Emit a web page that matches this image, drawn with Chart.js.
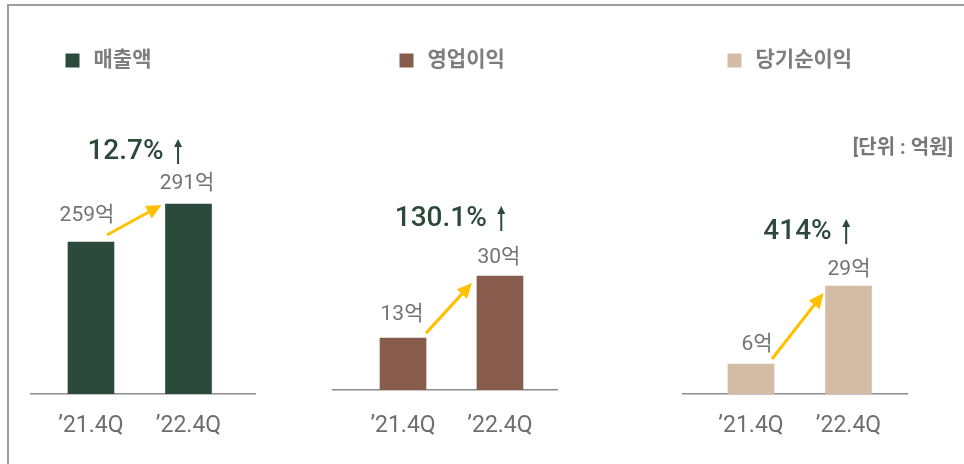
<!DOCTYPE html>
<html>
<head>
<meta charset="utf-8">
<script src="https://cdn.jsdelivr.net/npm/chart.js@4.4.1/dist/chart.umd.min.js"></script>
<style>
  html, body { margin: 0; padding: 0; background: #fff; }
  body { width: 964px; height: 464px; position: relative; overflow: hidden; }
  .frame { position: absolute; left: 7px; top: 4px; width: 1000px; height: 500px;
           border-top: 2px solid #9d9d9d; border-left: 2px solid #9d9d9d; }
  .panel { position: absolute; left: 0; width: 964px; }
  .unit { position: absolute; right: 11px; top: 131px; line-height: 22px;
          font: bold 20px Roboto, "Noto Sans CJK KR", sans-serif; color: #777; }
</style>
</head>
<body>
<div class="frame"></div>
<div class="panel" id="p1"><canvas id="chart1"></canvas></div>
<div class="panel" id="p2"><canvas id="chart2"></canvas></div>
<div class="panel" id="p3"><canvas id="chart3"></canvas></div>
<div class="unit" id="unit"></div>
<script>
// data
const categories = ['’21.4Q', '’22.4Q']
const seriesNames = ['매출액', '영업이익', '당기순이익']
const salesValues = [259, 291]
const opProfitValues = [13, 30]
const netProfitValues = [6, 29]
const growthLabels = ['12.7%', '130.1%', '414%']
const valueUnit = '억'
const unitText = '[단위 : 억원]'

document.getElementById('unit').textContent = unitText

const fontFamily = 'Roboto, "Noto Sans CJK KR", sans-serif'

// draws value labels, the yellow arrow and the growth figure
const annotate = {
  id: 'annotate',
  afterDatasetsDraw(chart, args, opts) {
    const ctx = chart.ctx
    const bars = chart.getDatasetMeta(0).data
    const values = chart.data.datasets[0].data.map(p => p.y)
    const a = bars[0], b = bars[1]
    ctx.save()

    ctx.font = '21px ' + fontFamily
    ctx.fillStyle = '#737373'
    ctx.textAlign = 'center'
    ctx.textBaseline = 'middle'
    bars.forEach((bar, i) => {
      ctx.fillText(values[i] + valueUnit, bar.x + opts.valueShift[i], bar.y - opts.valueLift[i])
    })

    // yellow arrow
    const x1 = a.x + a.width / 2 + opts.arrow[0], y1 = a.y + opts.arrow[1]
    const x2 = b.x - b.width / 2 + opts.arrow[2], y2 = b.y + opts.arrow[3]
    const ang = Math.atan2(y2 - y1, x2 - x1)
    const cos = Math.cos(ang), sin = Math.sin(ang)
    const head = 15, half = 7
    ctx.strokeStyle = '#ffc000'
    ctx.fillStyle = '#ffc000'
    ctx.lineWidth = 3
    ctx.beginPath()
    ctx.moveTo(x1, y1)
    ctx.lineTo(x2 - head * 0.8 * cos, y2 - head * 0.8 * sin)
    ctx.stroke()
    ctx.beginPath()
    ctx.moveTo(x2, y2)
    ctx.lineTo(x2 - head * cos + half * sin, y2 - head * sin - half * cos)
    ctx.lineTo(x2 - head * cos - half * sin, y2 - head * sin + half * cos)
    ctx.closePath()
    ctx.fill()

    // growth figure with thin up arrow
    ctx.font = '500 28px ' + fontFamily
    ctx.fillStyle = '#2b4a3a'
    ctx.strokeStyle = '#2b4a3a'
    const w = ctx.measureText(opts.growth).width
    const gw = w + 14.5 + 4
    const cx = (a.x + b.x) / 2 + opts.growthShift
    const cy = b.y - opts.growthLift
    const left = cx - gw / 2
    ctx.textAlign = 'left'
    ctx.fillText(opts.growth, left, cy)
    const ax = left + w + 14.5
    ctx.lineWidth = 2
    ctx.beginPath()
    ctx.moveTo(ax, cy - 6)
    ctx.lineTo(ax, cy + 12)
    ctx.stroke()
    ctx.beginPath()
    ctx.moveTo(ax, cy - 13)
    ctx.lineTo(ax - 4, cy - 5)
    ctx.lineTo(ax + 4, cy - 5)
    ctx.closePath()
    ctx.fill()

    ctx.restore()
  }
}

function makeChart(id, panelId, name, values, color, growth, s) {
  const panel = document.getElementById(panelId)
  panel.style.top = s.top + 'px'
  panel.style.height = (464 - s.top) + 'px'
  return new Chart(document.getElementById(id), {
    type: 'bar',
    data: {
      datasets: [{
        label: name,
        data: values.map((v, i) => ({ x: i + 1, y: v })),
        backgroundColor: color,
        borderWidth: 0,
        barThickness: 46,
        base: s.yMin
      }]
    },
    options: {
      responsive: true,
      maintainAspectRatio: false,
      animation: false,
      layout: { padding: { left: s.area[0], right: 964 - s.area[1], top: 0, bottom: s.bottom } },
      scales: {
        x: {
          type: 'linear',
          offset: false,
          bounds: 'data',
          min: s.xMin,
          max: s.xMax,
          afterBuildTicks: (scale) => { scale.ticks = categories.map((c, i) => ({ value: i + 1 })) },
          grid: { display: false, drawTicks: false },
          border: { display: true, color: '#8c8c8c', width: 1.5 },
          ticks: {
            padding: s.tickPad,
            color: '#6e6e6e',
            font: { family: fontFamily, size: 23, lineHeight: 1.2 },
            maxRotation: 0,
            autoSkip: false,
            callback: (v) => categories[Math.round(v) - 1]
          }
        },
        y: {
          display: false,
          bounds: 'data',
          min: s.yMin,
          max: s.yMax
        }
      },
      plugins: {
        legend: {
          position: 'top',
          align: 'start',
          labels: {
            usePointStyle: true,
            pointStyle: 'rect',
            boxWidth: 21,
            boxHeight: 14,
            padding: s.legendPad,
            color: '#7d7d7d',
            font: { family: fontFamily, size: 21, weight: 'bold' }
          }
        },
        tooltip: { enabled: false },
        annotate: {
          growth: growth,
          growthShift: s.growthShift,
          growthLift: s.growthLift,
          valueShift: s.valueShift,
          valueLift: s.valueLift,
          arrow: s.arrow
        }
      }
    },
    plugins: [annotate]
  })
}

makeChart('chart1', 'p1', seriesNames[0], salesValues, '#2c4a3b', growthLabels[0], {
  top: 19, legendPad: 31, area: [31, 255], bottom: 6.4, tickPad: 18,
  xMin: 0.385, xMax: 2.682, yMin: 131, yMax: 394.6,
  valueShift: [-4, -1.5], valueLift: [26, 20], growthShift: -5, growthLift: 52,
  arrow: [-7, -7, -4, 1]
})

makeChart('chart2', 'p2', seriesNames[1], opProfitValues, '#875c4c', growthLabels[1], {
  top: -13, legendPad: 63, area: [333, 557], bottom: 2.4, tickPad: 22,
  xMin: 0.278, xMax: 2.588, yMin: -1.2, yMax: 83.4,
  valueShift: [-1, -1], valueLift: [23, 18], growthShift: -1.5, growthLift: 57,
  arrow: [0, -5, -5, 7]
})

makeChart('chart3', 'p3', seriesNames[2], netProfitValues, '#d3bba4', growthLabels[2], {
  top: 9, legendPad: 41, area: [683, 907], bottom: 6.4, tickPad: 18,
  xMin: 0.3026, xMax: 2.6, yMin: -2.85, yMax: 89.5,
  valueShift: [6, 0.5], valueLift: [19, 16], growthShift: 7, growthLift: 54,
  arrow: [-2, -5, -2, 7]
})
</script>
</body>
</html>
